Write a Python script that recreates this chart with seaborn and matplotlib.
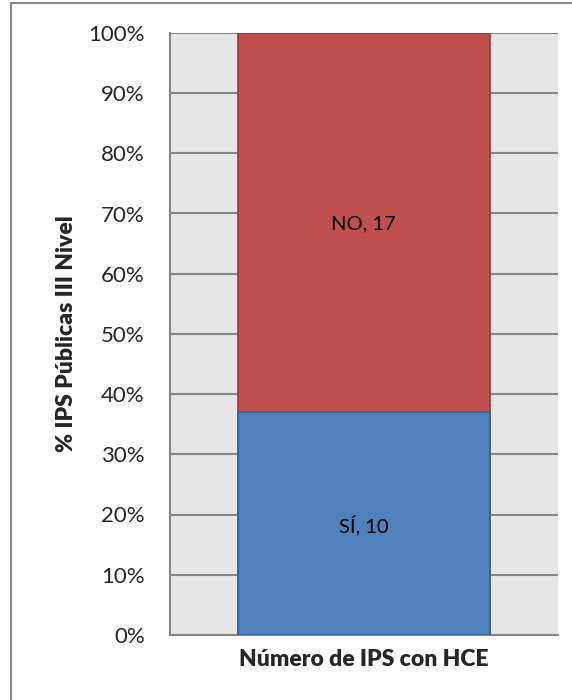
import matplotlib
matplotlib.use("Agg")
import matplotlib.pyplot as plt
import pandas as pd
import seaborn as sns
from matplotlib.patches import Rectangle
from matplotlib.ticker import PercentFormatter

categories = ["Número de IPS con HCE"]
series = ["SÍ", "NO"]
counts_si = [10]
counts_no = [17]
colors = {"SÍ": "#4F81BD", "NO": "#C0504D"}
edges = {"SÍ": "#3A6496", "NO": "#943B39"}

total = [a + b for a, b in zip(counts_si, counts_no)]
df = pd.DataFrame({
    "cat": categories,
    "si": [100 * a / t for a, t in zip(counts_si, total)],
    "cum": [100.0 for _ in total],
})

sns.set_theme(style="white")
plt.rcParams["font.family"] = ["Lato", "DejaVu Sans"]

fig = plt.figure(figsize=(5.72, 7), dpi=100)
ax = fig.add_axes([0.297, 0.093, 0.678, 0.86])
ax.set_facecolor("#E6E6E6")

sns.barplot(data=df, x="cat", y="cum", color=colors["NO"], width=0.65,
            edgecolor=edges["NO"], linewidth=1.2, saturation=1, ax=ax, zorder=3)
sns.barplot(data=df, x="cat", y="si", color=colors["SÍ"], width=0.65,
            edgecolor=edges["SÍ"], linewidth=1.2, saturation=1, ax=ax, zorder=4)

for i, row in df.iterrows():
    ax.text(i, row["si"] / 2, f"SÍ, {counts_si[i]}", ha="center", va="center_baseline",
            fontsize=14.5, color="black", zorder=5)
    ax.text(i, (row["si"] + row["cum"]) / 2, f"NO, {counts_no[i]}", ha="center",
            va="center_baseline", fontsize=14.5, color="black", zorder=5)

ax.set_ylim(0, 100)
ax.set_yticks(range(0, 101, 10))
ax.yaxis.set_major_formatter(PercentFormatter(decimals=0))
ax.grid(axis="y", color="#868686", linewidth=1.5, zorder=0)
ax.set_axisbelow(True)
ax.tick_params(axis="y", length=0, labelsize=16, pad=18)
ax.set_xticks([])
ax.set_xlabel("Número de IPS con HCE", fontsize=16.5, fontweight="heavy", labelpad=10)
ax.set_ylabel("% IPS Públicas III Nivel", fontsize=16.5, fontweight="heavy", labelpad=8)
for side in ["top", "right"]:
    ax.spines[side].set_visible(False)
for side in ["left", "bottom"]:
    ax.spines[side].set_color("#868686")
    ax.spines[side].set_linewidth(1.5)

fig.patches.append(Rectangle((10.5 / 572, -0.1), 1.2, 1.1 - 3.5 / 700,
                             transform=fig.transFigure, fill=False,
                             edgecolor="#878787", linewidth=1.5))

fig.savefig("out.png", dpi=100)
plt.close(fig)
